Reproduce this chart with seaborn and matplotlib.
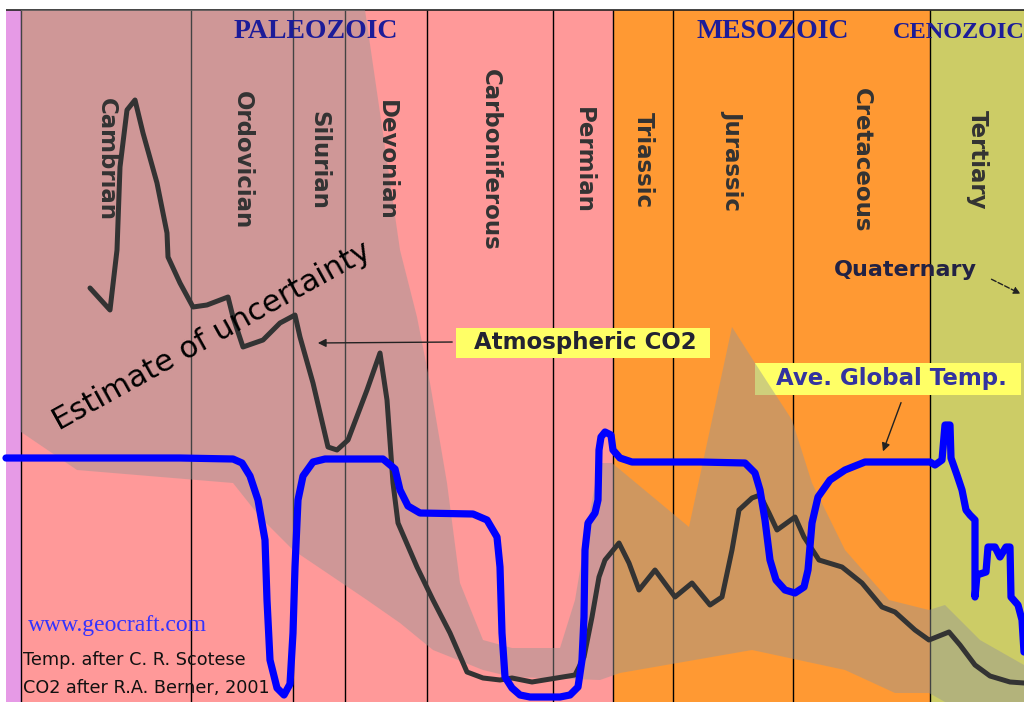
import matplotlib
matplotlib.use("Agg")
import matplotlib.pyplot as plt
from matplotlib.patches import Rectangle
import seaborn as sns
import pandas as pd

# chart units: x = position along the time strip, y = level measured down from the top
period_names = ['Cambrian', 'Ordovician', 'Silurian', 'Devonian', 'Carboniferous',
                'Permian', 'Triassic', 'Jurassic', 'Cretaceous', 'Tertiary']
period_bounds = [21, 191, 293, 345, 427, 553, 613, 673, 793, 930, 1024]

era_names = ['PALEOZOIC', 'MESOZOIC', 'CENOZOIC']
era_bounds = [21, 613, 930, 1024]

temp_x = [6, 60, 120, 180, 233, 242, 250, 258, 265, 267, 270, 277, 284, 290, 293, 295,
          298, 303, 313, 325, 383, 395, 400, 408, 420, 473, 487, 497, 500, 502, 505,
          512, 520, 530, 560, 570, 578, 582, 584, 585, 588, 595, 598, 599, 601, 605,
          611, 613, 620, 632, 700, 745, 755, 760, 765, 770, 776, 785, 795, 804, 808,
          812, 818, 830, 845, 865, 930, 935, 942, 945, 950, 951, 957, 962, 966, 970,
          975, 975, 977, 986, 988, 995, 1000, 1006, 1010, 1011, 1018, 1022, 1024]
temp_y = [458, 458, 458, 458, 459, 463, 476, 500, 540, 600, 660, 688, 695, 684, 633, 567,
          500, 476, 462, 459, 459, 469, 490, 506, 513, 514, 520, 537, 567, 633, 677,
          688, 695, 697, 697, 695, 687, 660, 617, 550, 523, 513, 500, 450, 437, 432,
          435, 450, 458, 462, 462, 463, 473, 490, 520, 560, 580, 590, 593, 587, 570,
          523, 497, 480, 470, 462, 462, 465, 460, 425, 425, 458, 475, 490, 510, 515,
          520, 597, 575, 572, 547, 547, 557, 547, 547, 597, 605, 620, 652]

co2_x = [90, 110, 117, 120, 127, 135, 143, 157, 167, 168, 180, 193, 207, 228, 233, 243,
         263, 280, 295, 300, 313, 328, 337, 348, 367, 380, 387, 393, 398, 417, 433,
         450, 467, 483, 500, 512, 532, 575, 584, 592, 599, 605, 619, 629, 639, 655,
         675, 692, 710, 722, 732, 739, 752, 760, 769, 777, 795, 804, 819, 842, 862,
         882, 895, 915, 929, 949, 960, 975, 990, 1010, 1024]
co2_y = [288, 310, 250, 167, 110, 100, 133, 183, 233, 257, 283, 307, 305, 297, 317, 347,
         340, 323, 315, 337, 383, 447, 450, 440, 390, 353, 400, 483, 523, 567, 600,
         633, 672, 678, 680, 678, 682, 675, 657, 617, 577, 560, 543, 563, 590, 570,
         597, 583, 605, 597, 550, 510, 498, 495, 513, 530, 517, 537, 560, 567, 583,
         607, 612, 630, 640, 632, 645, 665, 676, 682, 683]

# uncertainty envelope: upper edge left->right, then lower edge right->left
band_x = [21, 365, 400, 417, 430, 447, 460, 483, 512, 560, 575, 589, 599, 612, 689,
          732, 755, 792, 812, 845, 889, 929, 945, 980, 1024,
          1024, 945, 929, 895, 845, 752, 620, 600, 512, 483, 433, 400, 367, 333,
          293, 260, 233, 77, 21]
band_y = [10, 10, 250, 317, 383, 483, 583, 640, 648, 648, 600, 517, 463, 463, 527,
          327, 363, 420, 483, 550, 600, 610, 605, 640, 665,
          702, 702, 693, 693, 670, 650, 673, 680, 677, 670, 650, 623, 600, 577,
          550, 517, 483, 470, 432]

temp = pd.DataFrame({'x': temp_x, 'y': temp_y})
co2 = pd.DataFrame({'x': co2_x, 'y': co2_y})

sns.set_theme(style='white')
plt.rcParams['font.family'] = ['DejaVu Sans']

fig = plt.figure(figsize=(10.24, 7.02), dpi=100)
ax = fig.add_axes([0, 0, 1, 1])

top, bottom = 10, 702

# era backgrounds
ax.fill_between([6, era_bounds[0]], top, bottom, color='#e69ae6', lw=0, zorder=0)
era_colors = ['#ff9999', '#ff9933', '#cccc66']
for i, c in enumerate(era_colors):
    ax.fill_between([era_bounds[i], era_bounds[i + 1]], top, bottom, color=c, lw=0, zorder=0)

# period divisions
ax.vlines(period_bounds[:-1], top, bottom, color='black', lw=1, zorder=1)
ax.hlines(top, 6, 1024, color='#222222', lw=1.2, zorder=1)

# label boxes (under the uncertainty shading)
ax.add_patch(Rectangle((456, 328), 254, 30, fc='#ffff66', ec='none', zorder=2))
ax.add_patch(Rectangle((755, 363), 266, 32, fc='#ffff66', ec='none', zorder=2))

ax.fill(band_x, band_y, color='#969696', alpha=0.45, lw=0, zorder=3)

sns.lineplot(data=co2, x='x', y='y', sort=False, estimator=None, color='#333333',
             lw=3.6, ax=ax, zorder=4, solid_joinstyle='round', solid_capstyle='round')
sns.lineplot(data=temp, x='x', y='y', sort=False, estimator=None, color='#0000ff',
             lw=5.2, ax=ax, zorder=5, solid_joinstyle='round', solid_capstyle='round')

# period names, rotated
for i, name in enumerate(period_names):
    xm = (period_bounds[i] + period_bounds[i + 1]) / 2
    ax.text(xm, 160, name, rotation=270, ha='center', va='center', fontsize=16.5,
            fontweight='bold', color='#333333', zorder=6)

era_x = [316, 773, 893]
era_size = [20, 20, 17.5]
for name, xe, fs, ha in zip(era_names, era_x, era_size, ['center', 'center', 'left']):
    ax.text(xe, 32, name, ha=ha, va='center', fontsize=fs, family='Liberation Serif',
            fontweight='bold', color='#1c1c99', zorder=6)

ax.text(212, 336, 'Estimate of uncertainty', rotation=29, rotation_mode='anchor',
        ha='center', va='center', fontsize=22, color='black', zorder=6)

ax.text(585, 343, 'Atmospheric CO2', ha='center', va='center', fontsize=16.5,
        fontweight='bold', color='#222233', zorder=6)
ax.annotate('', xy=(315, 343), xytext=(455, 342),
            arrowprops=dict(arrowstyle='-|>', color='#222222', lw=1, mutation_scale=12),
            zorder=6)

ax.text(891, 379, 'Ave. Global Temp.', ha='center', va='center', fontsize=16.5,
        fontweight='bold', color='#3333a0', zorder=6)
ax.annotate('', xy=(882, 454), xytext=(902, 400),
            arrowprops=dict(arrowstyle='-|>', color='#222222', lw=1, mutation_scale=12),
            zorder=6)

ax.text(905, 270, 'Quaternary', ha='center', va='center', fontsize=16,
        fontweight='bold', color='#222244', zorder=6)
ax.annotate('', xy=(1023, 295), xytext=(989, 278),
            arrowprops=dict(arrowstyle='-|>', color='#222222', lw=1, ls='--',
                            mutation_scale=10), zorder=6)

ax.text(28, 625, 'www.geocraft.com', ha='left', va='center', fontsize=17,
        family='Liberation Serif', color='#3333ff', zorder=6)
ax.text(23, 660, 'Temp. after C. R. Scotese', ha='left', va='center', fontsize=12.7,
        color='#111111', zorder=6)
ax.text(23, 688, 'CO2 after R.A. Berner, 2001', ha='left', va='center', fontsize=12.7,
        color='#111111', zorder=6)

ax.set_xlim(0, 1024)
ax.set_ylim(702, 0)
ax.axis('off')

fig.savefig('out.png', dpi=100, facecolor='white')
